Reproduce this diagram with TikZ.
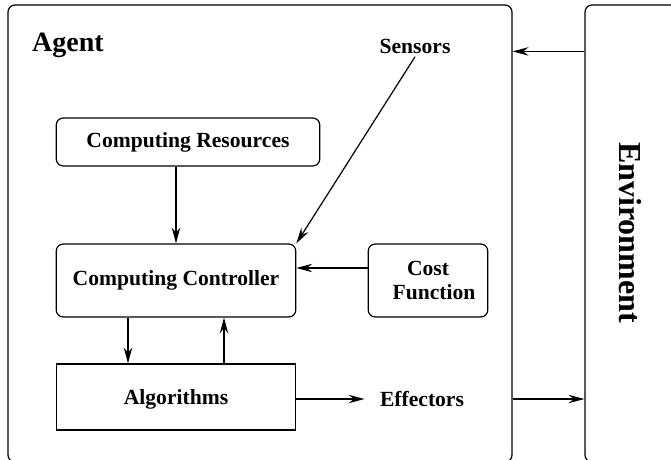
\documentclass[tikz,border=0pt]{standalone}
\usepackage{fontspec}
\setmainfont{Liberation Serif}
\usetikzlibrary{arrows.meta}

\begin{document}
\begin{tikzpicture}[x=1pt, y=-1pt,
  box/.style={draw, line width=1.2pt, rounded corners=7pt, align=center,
    font=\bfseries\fontsize{21.6}{24.5}\selectfont},
  lbl/.style={font=\bfseries\fontsize{21.6}{24.5}\selectfont},
  arr/.style={line width=1.2pt, -{Stealth[length=16pt, width=8.5pt, inset=5.5pt]}}]
  \useasboundingbox (0,0) rectangle (671,459);
  \clip (0,0) rectangle (671,459);

  % the two big frames
  \node[box, minimum width=504pt, minimum height=457pt] (agent) at (260,233.5) {};
  \node[box, minimum width=150pt, minimum height=457pt] (env) at (660,233.5) {};
  \node[lbl, font=\bfseries\fontsize{28}{32}\selectfont] (agentlabel) at (68,45.5) {Agent};
  \node[lbl, font=\bfseries\fontsize{32}{36}\selectfont, rotate=-90] (envlabel) at (630,232.5) {Environment};

  % inside the agent
  \node[lbl] (sensors) at (415,46) {Sensors};
  \node[box, minimum width=263.5pt, minimum height=48pt] (res) at (188,142) {Computing Resources};
  \node[box, minimum width=239.5pt, minimum height=73pt] (ctrl) at (176,280.5) {Computing Controller};
  \node[box, minimum width=119.5pt, minimum height=73pt] (cost) at (428,280.5) {Cost\\\hspace*{12pt}Function};
  \node[box, rounded corners=0pt, text depth=0pt, minimum width=239.5pt, minimum height=66pt] (algo) at (176,397) {Algorithms};
  \node[lbl] (effectors) at (422,399) {Effectors};

  % connectors
  \draw[arr] ([yshift=-47pt]env.north west) -- ([yshift=-47pt]agent.north east);
  \draw[arr] (sensors.south) -- (ctrl.north east);
  \draw[arr] (res.south -| ctrl.north) -- (ctrl.north);
  \draw[arr] ([yshift=12.5pt]cost.west) -- ([yshift=12.5pt]ctrl.east);
  \draw[arr] ([xshift=-48pt]ctrl.south) -- ([xshift=-48pt]algo.north);
  \draw[arr] ([xshift=48pt]algo.north) -- ([xshift=48pt]ctrl.south);
  \draw[arr, shorten >=12pt] (algo.east |- effectors) -- (effectors.west);
  \draw[arr] (agent.east |- effectors) -- (env.west |- effectors);
\end{tikzpicture}
\end{document}
